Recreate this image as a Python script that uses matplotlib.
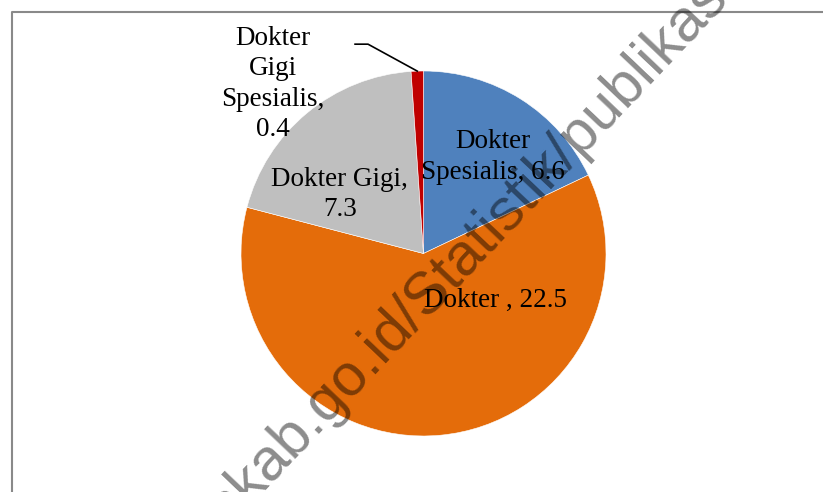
import numpy as np
import matplotlib
matplotlib.use('Agg')
import matplotlib.pyplot as plt
from matplotlib.lines import Line2D

# Data
categories = ['Dokter Spesialis', 'Dokter ', 'Dokter Gigi', 'Dokter Gigi Spesialis']
values = [6.6, 22.5, 7.3, 0.4]
colors = ['#4F81BD', '#E46C0A', '#BFBFBF', '#C00000']
label_texts = ['Dokter\nSpesialis, 6.6', 'Dokter , 22.5', 'Dokter Gigi,\n7.3',
               'Dokter\nGigi\nSpesialis,\n0.4']

# label placement (pie radius units), excel "best fit" style
label_pos = [(0.381, 0.529), (0.397, -0.255), (-0.458, 0.321), (-0.825, 0.929)]

W, H = 823, 492
fig = plt.figure(figsize=(W / 100, H / 100), dpi=100)
fig.patch.set_facecolor('white')

# pie area: center (423.5, 253.5) px, radius 182.5 px
cx, cy, r = 423.5, 253.5, 182.5
ax = fig.add_axes([(cx - r) / W, (H - cy - r) / H, 2 * r / W, 2 * r / H])
wedges, _ = ax.pie(values, colors=colors, startangle=90, counterclock=False,
                   radius=1.0, wedgeprops=dict(edgecolor='white', linewidth=0.4))
ax.set_xlim(-1, 1)
ax.set_ylim(-1, 1)
ax.axis('off')

for txt, (lx, ly) in zip(label_texts, label_pos):
    ax.text(lx, ly, txt, ha='center', va='center', multialignment='center',
            fontsize=19.5, family='Liberation Serif', linespacing=1.27,
            color='black', clip_on=False)

# leader line for the small slice
w = wedges[3]
mid = np.deg2rad((w.theta1 + w.theta2) / 2)
ex, ey = np.cos(mid), np.sin(mid)
ax.add_line(Line2D([-0.375, -0.304, ex], [1.147, 1.147, ey], color='black',
                   linewidth=1.2, clip_on=False))

# chart frame (only top/left visible)
fx, fy = 11.5 / W, 1 - 11.5 / H
fig.add_artist(Line2D([fx, fx, 1.0], [0.0, fy, fy], color='#898989',
                      linewidth=1.5, transform=fig.transFigure))

# watermark
fig.text(226 / W, 1 - 528 / H, 'nkab.go.id/Statistik/publikasi',
         rotation=46.5, rotation_mode='anchor', ha='left', va='baseline',
         fontsize=42.6, family='Liberation Sans', color='black', alpha=0.45)

fig.savefig('out.png', dpi=100)
